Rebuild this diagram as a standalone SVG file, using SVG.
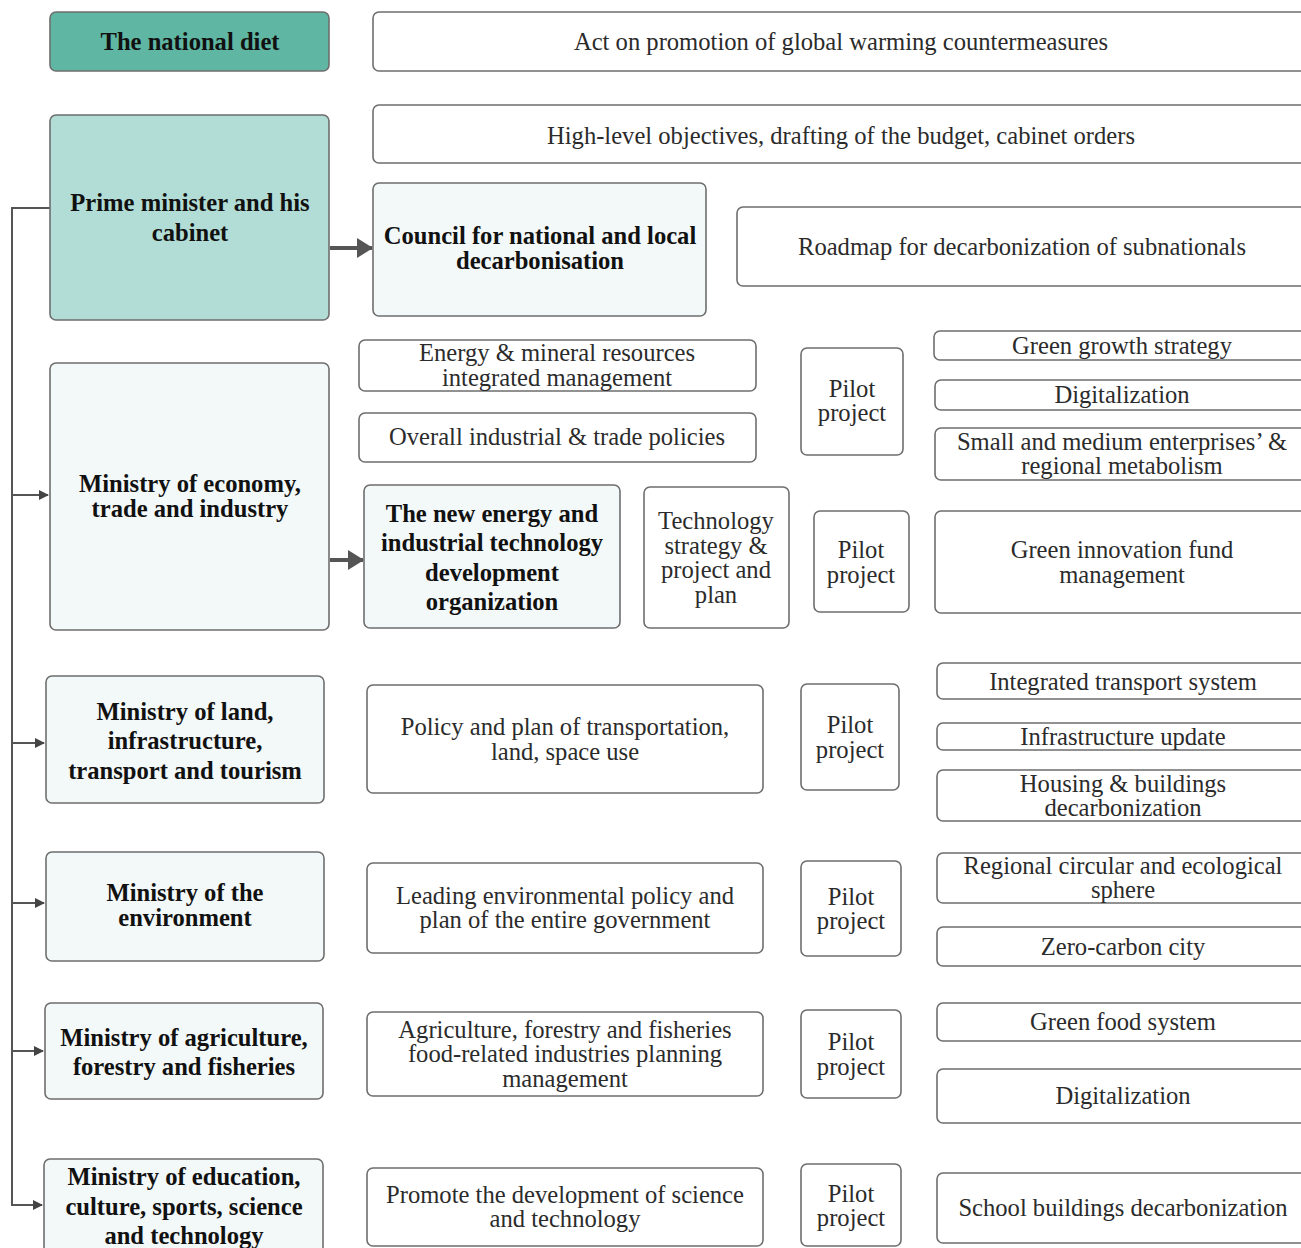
<svg xmlns="http://www.w3.org/2000/svg" width="1301" height="1248" viewBox="0 0 1301 1248">
<defs>
<style>
.b{stroke:#6e6e6e;stroke-width:1.6;fill:#fff}
.dk{fill:#5fb7a3}
.md{fill:#b1ddd6}
.lt{fill:#f3f8f8}
text{font-family:"Liberation Serif","Times New Roman",serif;font-size:24.6px;text-anchor:middle;dominant-baseline:central}
.t{fill:#2b2b2b}
.h{font-weight:bold;fill:#111}
.c{stroke:#555;stroke-width:2;fill:none}
.ca{stroke:#555;stroke-width:4;fill:none}
</style>
<marker id="ah" markerWidth="10" markerHeight="10" refX="9" refY="5" orient="auto" markerUnits="userSpaceOnUse"><path d="M0,0 L10,5 L0,10 z" fill="#444"/></marker>
<marker id="ah2" markerWidth="16" markerHeight="20" refX="15" refY="10" orient="auto" markerUnits="userSpaceOnUse"><path d="M0,0 L16,10 L0,20 z" fill="#555"/></marker>
</defs>
<rect width="1301" height="1248" fill="#fff"/>

<g id="connectors">
<path class="c" d="M50,208 H12 V1205 H42" marker-end="url(#ah)"/>
<path class="c" d="M12,495 H48" marker-end="url(#ah)"/>
<path class="c" d="M12,743 H44" marker-end="url(#ah)"/>
<path class="c" d="M12,903 H44" marker-end="url(#ah)"/>
<path class="c" d="M12,1051 H43" marker-end="url(#ah)"/>
<path class="ca" d="M330,248 H372" marker-end="url(#ah2)"/>
<path class="ca" d="M330,560 H363" marker-end="url(#ah2)"/>
</g>

<g id="n-diet"><rect class="b dk" x="50" y="12" width="279" height="59" rx="6"/><text class="h" x="190" y="41">The national diet</text></g>
<g id="n-act"><rect class="b" x="373" y="12" width="940" height="59" rx="6"/><text class="t" x="841" y="41">Act on promotion of global warming countermeasures</text></g>
<g id="n-high"><rect class="b" x="373" y="105" width="940" height="58" rx="6"/><text class="t" x="841" y="135">High-level objectives, drafting of the budget, cabinet orders</text></g>
<g id="n-pm"><rect class="b md" x="50" y="115" width="279" height="205" rx="6"/><text class="h" x="190" y="202">Prime minister and his</text><text class="h" x="190" y="232">cabinet</text></g>
<g id="n-council"><rect class="b lt" x="373" y="183" width="333" height="133" rx="6"/><text class="h" x="540" y="235">Council for national and local</text><text class="h" x="540" y="260">decarbonisation</text></g>
<g id="n-roadmap"><rect class="b" x="737" y="207" width="576" height="79" rx="6"/><text class="t" x="1022" y="246">Roadmap for decarbonization of subnationals</text></g>

<g id="n-meti"><rect class="b lt" x="50" y="363" width="279" height="267" rx="6"/><text class="h" x="190" y="483">Ministry of economy,</text><text class="h" x="190" y="508">trade and industry</text></g>
<g id="n-energy"><rect class="b" x="359" y="340" width="397" height="51" rx="6"/><text class="t" x="557" y="352">Energy &amp; mineral resources</text><text class="t" x="557" y="377">integrated management</text></g>
<g id="n-overall"><rect class="b" x="359" y="413" width="397" height="49" rx="6"/><text class="t" x="557" y="436">Overall industrial &amp; trade policies</text></g>
<g id="n-nedo"><rect class="b lt" x="364" y="485" width="256" height="143" rx="6"/><text class="h" x="492" y="513">The new energy and</text><text class="h" x="492" y="542">industrial technology</text><text class="h" x="492" y="572">development</text><text class="h" x="492" y="601">organization</text></g>
<g id="n-tech"><rect class="b" x="644" y="487" width="145" height="141" rx="6"/><text class="t" x="716" y="520">Technology</text><text class="t" x="716" y="545">strategy &amp;</text><text class="t" x="716" y="569">project and</text><text class="t" x="716" y="594">plan</text></g>
<g id="n-pilot1"><rect class="b" x="801" y="348" width="102" height="107" rx="6"/><text class="t" x="852" y="388">Pilot</text><text class="t" x="852" y="412">project</text></g>
<g id="n-pilot2"><rect class="b" x="814" y="511" width="95" height="101" rx="6"/><text class="t" x="861" y="549">Pilot</text><text class="t" x="861" y="574">project</text></g>
<g id="n-ggs"><rect class="b" x="934" y="331" width="379" height="29" rx="6"/><text class="t" x="1122" y="345">Green growth strategy</text></g>
<g id="n-dig1"><rect class="b" x="935" y="380" width="378" height="30" rx="6"/><text class="t" x="1122" y="394">Digitalization</text></g>
<g id="n-sme"><rect class="b" x="935" y="428" width="378" height="52" rx="6"/><text class="t" x="1122" y="441">Small and medium enterprises’ &amp;</text><text class="t" x="1122" y="465">regional metabolism</text></g>
<g id="n-gif"><rect class="b" x="935" y="511" width="378" height="102" rx="6"/><text class="t" x="1122" y="549">Green innovation fund</text><text class="t" x="1122" y="574">management</text></g>

<g id="n-land"><rect class="b lt" x="46" y="676" width="278" height="127" rx="6"/><text class="h" x="185" y="711">Ministry of land,</text><text class="h" x="185" y="740">infrastructure,</text><text class="h" x="185" y="770">transport and tourism</text></g>
<g id="n-policy"><rect class="b" x="367" y="685" width="396" height="108" rx="6"/><text class="t" x="565" y="726">Policy and plan of transportation,</text><text class="t" x="565" y="751">land, space use</text></g>
<g id="n-pilot3"><rect class="b" x="801" y="684" width="98" height="106" rx="6"/><text class="t" x="850" y="724">Pilot</text><text class="t" x="850" y="749">project</text></g>
<g id="n-its"><rect class="b" x="937" y="663" width="376" height="36" rx="6"/><text class="t" x="1123" y="681">Integrated transport system</text></g>
<g id="n-infra"><rect class="b" x="937" y="723" width="376" height="27" rx="6"/><text class="t" x="1123" y="736">Infrastructure update</text></g>
<g id="n-housing"><rect class="b" x="937" y="770" width="376" height="51" rx="6"/><text class="t" x="1123" y="783">Housing &amp; buildings</text><text class="t" x="1123" y="807">decarbonization</text></g>

<g id="n-env"><rect class="b lt" x="46" y="852" width="278" height="109" rx="6"/><text class="h" x="185" y="892">Ministry of the</text><text class="h" x="185" y="917">environment</text></g>
<g id="n-leading"><rect class="b" x="367" y="863" width="396" height="90" rx="6"/><text class="t" x="565" y="895">Leading environmental policy and</text><text class="t" x="565" y="919">plan of the entire government</text></g>
<g id="n-pilot4"><rect class="b" x="801" y="861" width="100" height="95" rx="6"/><text class="t" x="851" y="896">Pilot</text><text class="t" x="851" y="920">project</text></g>
<g id="n-regional"><rect class="b" x="937" y="853" width="376" height="50" rx="6"/><text class="t" x="1123" y="865">Regional circular and ecological</text><text class="t" x="1123" y="889">sphere</text></g>
<g id="n-zero"><rect class="b" x="937" y="927" width="376" height="39" rx="6"/><text class="t" x="1123" y="946">Zero-carbon city</text></g>

<g id="n-agri"><rect class="b lt" x="45" y="1003" width="278" height="96" rx="6"/><text class="h" x="184" y="1037">Ministry of agriculture,</text><text class="h" x="184" y="1066">forestry and fisheries</text></g>
<g id="n-agripol"><rect class="b" x="367" y="1012" width="396" height="84" rx="6"/><text class="t" x="565" y="1029">Agriculture, forestry and fisheries</text><text class="t" x="565" y="1053">food-related industries planning</text><text class="t" x="565" y="1078">management</text></g>
<g id="n-pilot5"><rect class="b" x="801" y="1010" width="100" height="88" rx="6"/><text class="t" x="851" y="1041">Pilot</text><text class="t" x="851" y="1066">project</text></g>
<g id="n-food"><rect class="b" x="937" y="1003" width="376" height="38" rx="6"/><text class="t" x="1123" y="1021">Green food system</text></g>
<g id="n-dig2"><rect class="b" x="937" y="1069" width="376" height="54" rx="6"/><text class="t" x="1123" y="1095">Digitalization</text></g>

<g id="n-edu"><rect class="b lt" x="44" y="1159" width="279" height="110" rx="6"/><text class="h" x="184" y="1176">Ministry of education,</text><text class="h" x="184" y="1206">culture, sports, science</text><text class="h" x="184" y="1235">and technology</text></g>
<g id="n-promote"><rect class="b" x="367" y="1168" width="396" height="78" rx="6"/><text class="t" x="565" y="1194">Promote the development of science</text><text class="t" x="565" y="1218">and technology</text></g>
<g id="n-pilot6"><rect class="b" x="801" y="1164" width="100" height="82" rx="6"/><text class="t" x="851" y="1193">Pilot</text><text class="t" x="851" y="1217">project</text></g>
<g id="n-school"><rect class="b" x="937" y="1173" width="376" height="70" rx="6"/><text class="t" x="1123" y="1207">School buildings decarbonization</text></g>
</svg>
